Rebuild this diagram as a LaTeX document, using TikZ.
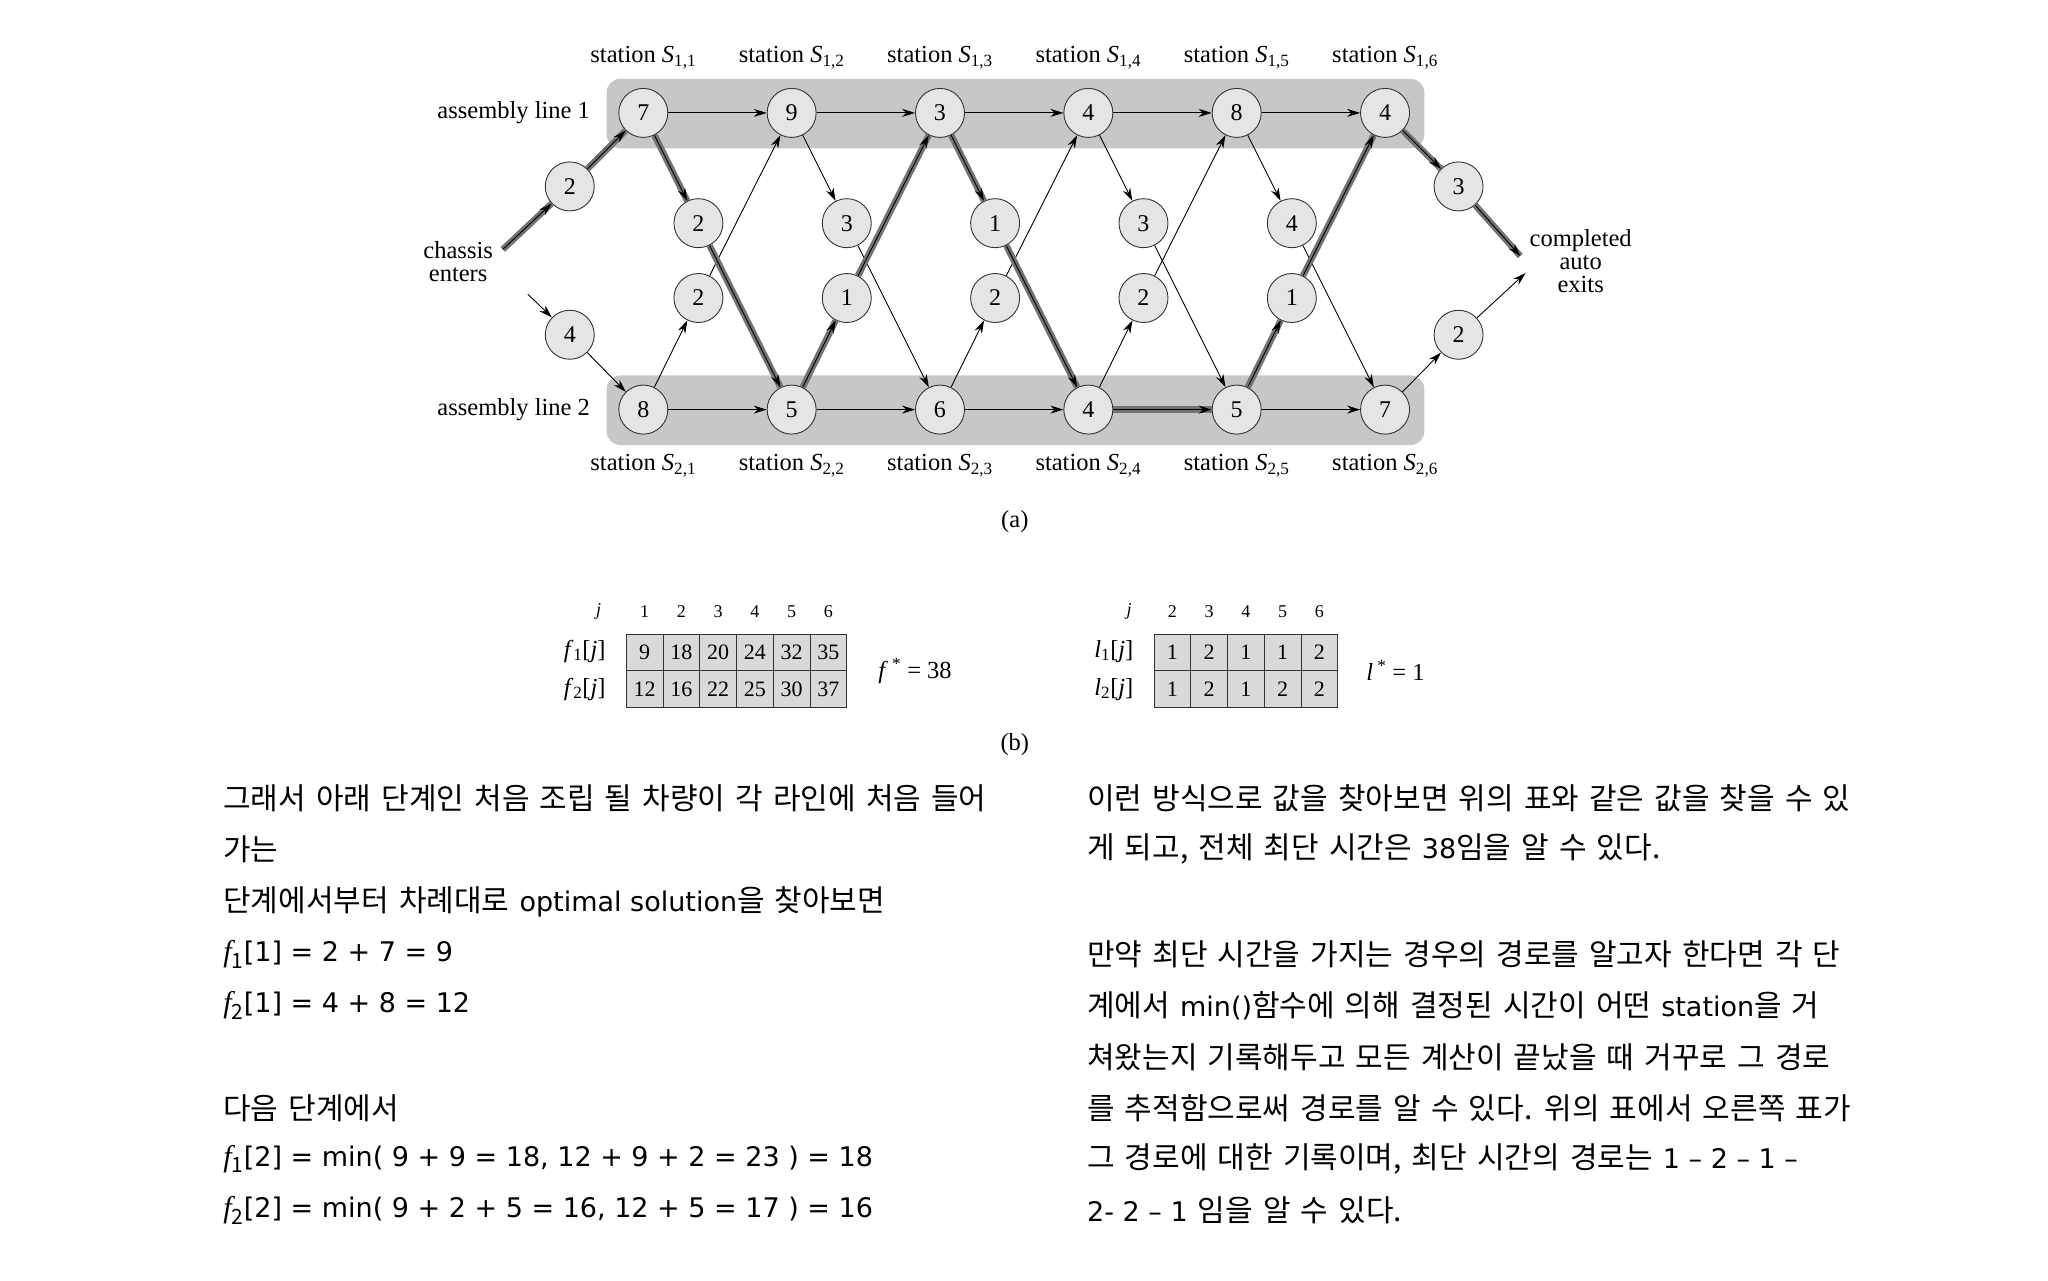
\documentclass[tikz,border=0pt]{standalone}
\usepackage{fontspec}
\setmainfont{Liberation Serif}
\newfontfamily\kr{Noto Sans CJK KR}[WordSpace=1.5]
\newfontfamily\dv{DejaVu Sans}
\usetikzlibrary{arrows.meta}
\begin{document}
\begin{tikzpicture}[x=1.3128pt,y=-1.3128pt,
  st/.style={circle,draw=black!80,fill=black!10,line width=0.9pt,minimum size=49pt,inner sep=0pt,font=\fontsize{24}{24}\selectfont},
  ar/.style={-{Stealth[length=13pt,width=8pt]},line width=0.9pt},
  hl/.style={ar,preaction={draw,black!55,line width=6.5pt,-}},
  lab/.style={font=\fontsize{24.5}{26}\selectfont},
  cell/.style={draw=black!80,fill=black!15,minimum width=36.76pt,minimum height=36.76pt,inner sep=0pt,font=\fontsize{22}{22}\selectfont,line width=0.8pt},
  hd/.style={font=\fontsize{18}{18}\selectfont},
  txt/.style={anchor=west,font=\kr\fontsize{30}{30}\selectfont,inner sep=0pt}]
\useasboundingbox (0,0) rectangle (1560,975);
\fill[black!22,rounded corners=14pt] (462,60) rectangle (1085,113);
\fill[black!22,rounded corners=14pt] (462,286) rectangle (1085,339);
\foreach \x/\a/\b [count=\j] in {490/7/8,603/9/5,716/3/6,829/4/4,942/8/5,1055/4/7}{
  \node[st] (a\j) at (\x,86) {\a};
  \node[st] (b\j) at (\x,312) {\b};
  \node[lab] at (\x,44) {station \textit{S}\textsubscript{1,\j}};
  \node[lab] at (\x,355) {station \textit{S}\textsubscript{2,\j}};
}
\foreach \x/\u/\l [count=\j] in {532/2/2,645/3/1,758/1/2,871/3/2,984/4/1}{
  \node[st] (u\j) at (\x,170) {\u};
  \node[st] (l\j) at (\x,227) {\l};
}
\node[st] (e1) at (434,142) {2};
\node[st] (e2) at (434,255) {4};
\node[st] (x1) at (1111,142) {3};
\node[st] (x2) at (1111,255) {2};
\node[lab,align=center] (ch) at (349,199) {chassis\\[-3pt]enters};
\node[lab,align=center] (ca) at (1204,199) {completed\\[-3pt]auto\\[-3pt]exits};
\node[lab,anchor=east] (al1) at (452,86) {assembly line 1};
\node[lab,anchor=east] (al2) at (452,312) {assembly line 2};
\node[lab] (pa) at (773,397) {(a)};
\coordinate (c1) at (383,190);
\coordinate (c2) at (402,224);
\coordinate (d1) at (1158,195);
\coordinate (d2) at (1162,208);
\draw[ar] (a1)--(a2); \draw[ar] (a2)--(a3); \draw[ar] (a3)--(a4); \draw[ar] (a4)--(a5); \draw[ar] (a5)--(a6);
\draw[ar] (b1)--(b2); \draw[ar] (b2)--(b3); \draw[ar] (b3)--(b4); \draw[hl] (b4)--(b5); \draw[ar] (b5)--(b6);
\draw[ar] (a2)--(u2); \draw[ar] (u2)--(b3);
\draw[ar] (a4)--(u4); \draw[ar] (u4)--(b5);
\draw[ar] (a5)--(u5); \draw[ar] (u5)--(b6);
\draw[ar] (b1)--(l1); \draw[ar] (l1)--(a2);
\draw[ar] (b3)--(l3); \draw[ar] (l3)--(a4);
\draw[ar] (b4)--(l4); \draw[ar] (l4)--(a5);
\draw[hl] (c1)--(e1); \draw[hl] (e1)--(a1);
\draw[hl] (a1)--(u1); \draw[hl] (u1)--(b2);
\draw[hl] (b2)--(l2); \draw[hl] (l2)--(a3);
\draw[hl] (a3)--(u3); \draw[hl] (u3)--(b4);
\draw[hl] (b5)--(l5); \draw[hl] (l5)--(a6);
\draw[hl] (a6)--(x1); \draw[hl] (x1)--(d1);
\draw[ar] (c2)--(e2); \draw[ar] (e2)--(b1);
\draw[ar] (b6)--(x2); \draw[ar] (x2)--(d2);
\node[hd] (fj) at (456,466) {\textit{j}};
\foreach \p/\q [count=\k] in {9/12,18/16,20/22,24/25,32/30,35/37}{
  \node[hd] (fh\k) at ({477+28*\k-14},466) {\k};
  \node[cell] (fa\k) at ({477+28*\k-14},497) {\p};
  \node[cell] (fb\k) at ({477+28*\k-14},525) {\q};
}
\node[lab,anchor=east] (f1) at (464,496) {\textit{f}\textsubscript{1}[\textit{j}]};
\node[lab,anchor=east] (f2) at (464,525) {\textit{f}\textsubscript{2}[\textit{j}]};
\node[lab] (fs) at (697,511) {\textit{f}\,\textsuperscript{*} = 38};
\node[hd] (lj) at (860,466) {\textit{j}};
\foreach \p/\q [count=\k] in {1/1,2/2,1/1,1/2,2/2}{
  \pgfmathtruncatemacro\kk{\k+1}
  \node[hd] (lh\k) at ({879+28*\k-14},466) {\kk};
  \node[cell] (la\k) at ({879+28*\k-14},497) {\p};
  \node[cell] (lb\k) at ({879+28*\k-14},525) {\q};
}
\node[lab,anchor=east] (l1t) at (866,496) {\textit{l}\textsubscript{1}[\textit{j}]};
\node[lab,anchor=east] (l2t) at (866,525) {\textit{l}\textsubscript{2}[\textit{j}]};
\node[lab] (ls) at (1063,511) {\textit{l}\,\textsuperscript{*} = 1};
\node[lab] (pb) at (773,567) {(b)};
\node[txt] at (170,608) {그래서 아래 단계인 처음 조립 될 차량이 각 라인에 처음 들어};
\node[txt] at (170,647) {가는};
\node[txt] at (170,687) {단계에서부터 차례대로 {\dv\fontsize{27}{27}\selectfont optimal solution}을 찾아보면};
\node[txt] at (170,727) {{\rmfamily\itshape f}\textsubscript{1}{\dv\fontsize{27}{27}\selectfont [1] = 2 + 7 = 9}};
\node[txt] at (170,766) {{\rmfamily\itshape f}\textsubscript{2}{\dv\fontsize{27}{27}\selectfont [1] = 4 + 8 = 12}};
\node[txt] at (170,844) {다음 단계에서};
\node[txt] at (170,883) {{\rmfamily\itshape f}\textsubscript{1}{\dv\fontsize{27}{27}\selectfont [2] = min( 9 + 9 = 18, 12 + 9 + 2 = 23 ) = 18}};
\node[txt] at (170,922) {{\rmfamily\itshape f}\textsubscript{2}{\dv\fontsize{27}{27}\selectfont [2] = min( 9 + 2 + 5 = 16, 12 + 5 = 17 ) = 16}};
\node[txt] at (828,608) {이런 방식으로 값을 찾아보면 위의 표와 같은 값을 찾을 수 있};
\node[txt] at (828,647) {게 되고, 전체 최단 시간은 {\dv\fontsize{27}{27}\selectfont 38}임을 알 수 있다.};
\node[txt] at (828,727) {만약 최단 시간을 가지는 경우의 경로를 알고자 한다면 각 단};
\node[txt] at (828,766) {계에서 {\dv\fontsize{27}{27}\selectfont min()}함수에 의해 결정된 시간이 어떤 {\dv\fontsize{27}{27}\selectfont station}을 거};
\node[txt] at (828,805) {쳐왔는지 기록해두고 모든 계산이 끝났을 때 거꾸로 그 경로};
\node[txt] at (828,844) {를 추적함으로써 경로를 알 수 있다. 위의 표에서 오른쪽 표가};
\node[txt] at (828,883) {그 경로에 대한 기록이며, 최단 시간의 경로는 {\dv\fontsize{27}{27}\selectfont 1 – 2 – 1 –}};
\node[txt] at (828,922) {{\dv\fontsize{27}{27}\selectfont 2- 2 – 1} 임을 알 수 있다.};
\end{tikzpicture}
\end{document}
